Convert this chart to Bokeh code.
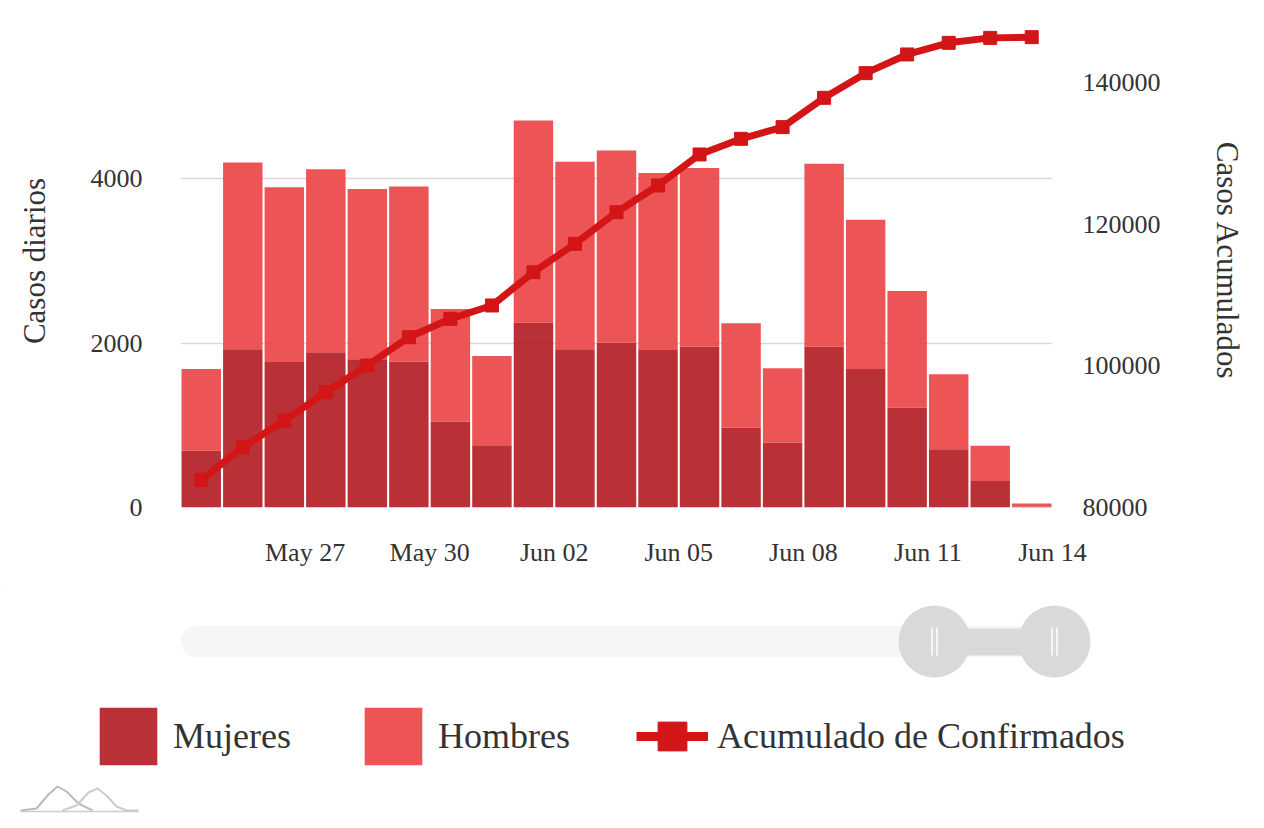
import pandas as pd
from bokeh.plotting import figure
from bokeh.models import (Range1d, LinearAxis, FixedTicker, DatetimeTickFormatter,
                          BasicTickFormatter, ColumnDataSource, Legend, LegendItem)
from bokeh.layouts import column
from bokeh.embed import file_html
from bokeh.resources import INLINE

# ---------------- data ----------------
fechas = ["2020-05-24", "2020-05-25", "2020-05-26", "2020-05-27", "2020-05-28", "2020-05-29",
          "2020-05-30", "2020-05-31", "2020-06-01", "2020-06-02", "2020-06-03", "2020-06-04",
          "2020-06-05", "2020-06-06", "2020-06-07", "2020-06-08", "2020-06-09", "2020-06-10",
          "2020-06-11", "2020-06-12", "2020-06-13"]
mujeres = [690, 1925, 1770, 1889, 1803, 1774, 1043, 759, 2249, 1925, 2006,
           1917, 1957, 975, 792, 1957, 1685, 1218, 710, 324, 10]
hombres = [995, 2274, 2129, 2229, 2072, 2132, 1373, 1085, 2462, 2282, 2339,
           2153, 2174, 1267, 902, 2226, 1816, 1418, 911, 427, 40]
acumulado = [83900, 88510, 92280, 96280, 100050, 104040, 106640, 108520, 113220, 117230,
             121690, 125460, 129840, 132050, 133700, 137840, 141320, 143960, 145600,
             146300, 146400]
ticks_x = ["2020-05-27", "2020-05-30", "2020-06-02", "2020-06-05", "2020-06-08",
           "2020-06-11", "2020-06-14"]
ticks_izq = [0, 2000, 4000, 6000]
ticks_der = [80000, 100000, 120000, 140000]
rango_x = ["2020-05-24", "2020-06-14"]
rango_izq = [0, 6000]
rango_der = [80000, 149600]

# ---------------- styles ----------------
C_MUJ = "#B11B20"
C_HOM = "#EA4144"
C_LINE = "#D31518"
FONT = "Liberation Serif"
TXT = "#333333"
DAY_MS = 86400000
W = 1262

centros = [pd.Timestamp(f) + pd.Timedelta(hours=12) for f in fechas]
src = ColumnDataSource(dict(x=centros, mujeres=mujeres, hombres=hombres))

p = figure(width=W, height=588, x_axis_type="datetime",
           x_range=Range1d(pd.Timestamp(rango_x[0]), pd.Timestamp(rango_x[1])),
           y_range=Range1d(*rango_izq),
           output_backend="svg", toolbar_location=None)
p.frame_align = False
p.min_border_left = 180
p.min_border_right = W - 1052
p.min_border_top = 14
p.min_border_bottom = 81
p.outline_line_color = None
p.background_fill_color = "white"
p.border_fill_color = "white"

p.extra_y_ranges = {"acum": Range1d(*rango_der)}

p.vbar_stack(["mujeres", "hombres"], x="x", width=0.95 * DAY_MS, source=src,
             color=[C_MUJ, C_HOM], fill_alpha=0.9, line_color=None)

p.line(centros, acumulado, y_range_name="acum", line_width=7, color=C_LINE,
       line_join="round")
p.scatter(centros, acumulado, y_range_name="acum", marker="square", size=13,
          color=C_LINE)

# grids
p.xgrid.visible = False
p.ygrid.ticker = FixedTicker(ticks=ticks_izq)
p.ygrid.grid_line_color = "#d9d9d9"
p.ygrid.grid_line_width = 1.5

# x axis
xa = p.xaxis[0]
xa.ticker = FixedTicker(ticks=[pd.Timestamp(t).value // 10**6 for t in ticks_x])
xa.formatter = DatetimeTickFormatter(days="%b %d", months="%b %d", hours="%b %d")
xa.major_label_standoff = 30

# left axis
ya = p.yaxis[0]
ya.ticker = FixedTicker(ticks=ticks_izq)
ya.major_label_overrides = {ticks_izq[-1]: ""}
ya.axis_label = "Casos diarios"
ya.major_label_standoff = 38
ya.axis_label_standoff = 36

# right axis
ra = LinearAxis(y_range_name="acum", axis_label="Casos Acumulados")
ra.ticker = FixedTicker(ticks=ticks_der)
ra.formatter = BasicTickFormatter(use_scientific=False)
ra.major_label_standoff = 30
ra.axis_label_standoff = 46
p.add_layout(ra, "right")

for ax in [xa, ya, ra]:
    ax.axis_line_color = None
    ax.major_tick_line_color = None
    ax.minor_tick_line_color = None
    ax.major_tick_out = 0
    ax.major_tick_in = 0
    ax.major_label_text_font = FONT
    ax.major_label_text_font_size = "26px"
    ax.major_label_text_color = TXT
    ax.axis_label_text_font = FONT
    ax.axis_label_text_font_size = "31px"
    ax.axis_label_text_font_style = "normal"
    ax.axis_label_text_color = TXT

# ---------------- scrollbar + legend panel (page-pixel coordinates) ----------------
s = figure(width=W, height=238, x_range=Range1d(0, W), y_range=Range1d(826, 588),
           output_backend="svg", toolbar_location=None,
           x_axis_location=None, y_axis_location=None)
s.frame_align = False
s.min_border_left = 0
s.min_border_right = 0
s.min_border_top = 0
s.min_border_bottom = 0
s.outline_line_color = None
s.xgrid.visible = False
s.ygrid.visible = False

# decorative scrollbar
s.line([196, 1070], [641, 641], line_width=31, color="#f6f6f6", line_cap="round")
s.quad(left=[960], right=[1025], top=[628], bottom=[655], color="#d9d9d9", line_color=None)
s.circle([934, 1054], [641, 641], radius=36, color="#d9d9d9", line_color=None)
for cx in [934, 1054]:
    s.segment([cx - 2.5, cx + 2.5], [627, 627], [cx - 2.5, cx + 2.5], [655, 655],
              line_color="white", line_width=1.5)

# decorative logo
s.line([20, 36, 48, 57, 66, 78, 92], [810, 808, 794, 786, 791, 803, 810],
       line_color="#bbbbbb", line_width=2)
s.line([62, 76, 88, 97, 106, 116, 126, 138], [810, 805, 792, 788, 795, 806, 810, 810],
       line_color="#cccccc", line_width=2)
s.line([20, 138], [811, 811], line_color="#cccccc", line_width=1.5)

# legend proxies (placed off-canvas)
r_m = s.vbar(x=[-500], top=[0], bottom=[1], width=1, fill_color=C_MUJ, fill_alpha=0.9,
             line_color=None)
r_h = s.vbar(x=[-500], top=[0], bottom=[1], width=1, fill_color=C_HOM, fill_alpha=0.9,
             line_color=None)
r_l = s.line(x=[-600, -550], y=[0, 0], line_width=9, color=C_LINE)
r_s = s.scatter(x=[-600], y=[0], marker="square", size=14, color=C_LINE)

leg = Legend(items=[LegendItem(label="Mujeres", renderers=[r_m]),
                    LegendItem(label="Hombres", renderers=[r_h]),
                    LegendItem(label="Acumulado de Confirmados", renderers=[r_l, r_s])],
             orientation="horizontal", location=(92, 54))
leg.glyph_width = 72
leg.glyph_height = 72
leg.label_standoff = 9
leg.spacing = 66
leg.padding = 0
leg.margin = 0
leg.label_text_font = FONT
leg.label_text_font_size = "36px"
leg.label_text_color = TXT
leg.border_line_color = None
leg.background_fill_alpha = 0
s.add_layout(leg)

layout = column(p, s, spacing=0)
open("out.html", "w").write(file_html(layout, INLINE))
